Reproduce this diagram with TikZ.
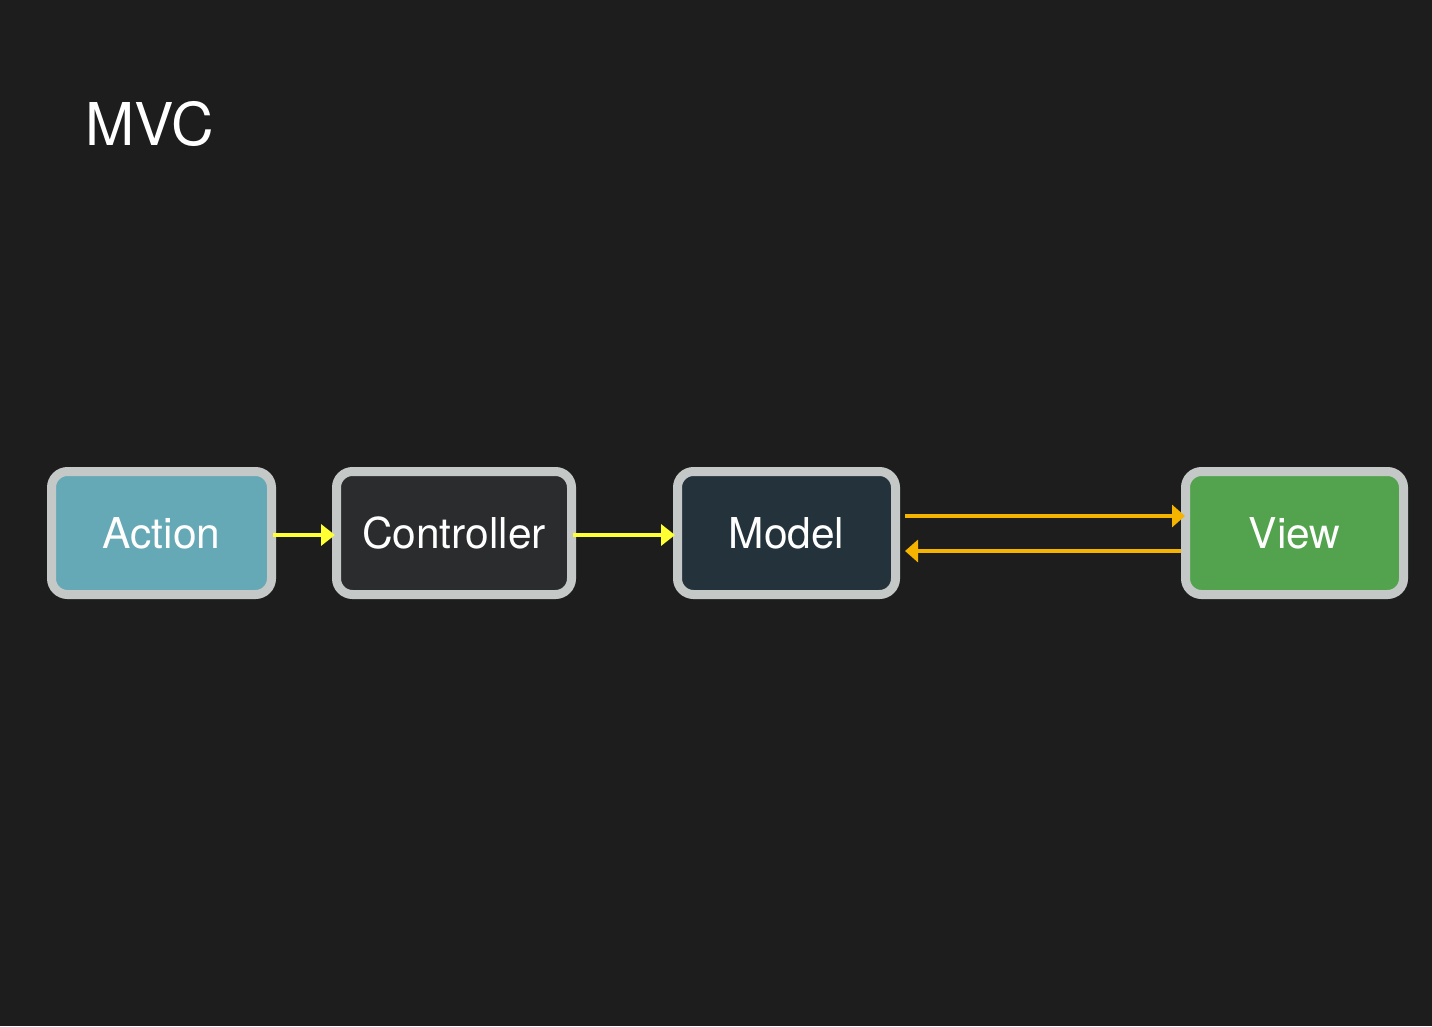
\documentclass[tikz,border=0pt]{standalone}
\usepackage{fontspec}
\setmainfont{TeX Gyre Heros}
\usetikzlibrary{arrows.meta}
\definecolor{bgdark}{HTML}{1D1D1D}
\definecolor{rim}{HTML}{C4C8C6}
\definecolor{actionfill}{HTML}{66A9B6}
\definecolor{controllerfill}{HTML}{2B2C2E}
\definecolor{modelfill}{HTML}{24333B}
\definecolor{viewfill}{HTML}{53A34E}
\definecolor{flowyellow}{HTML}{FFFF33}
\definecolor{floworange}{HTML}{F5B400}
\tikzset{
  box/.style={draw=rim, line width=9pt, rounded corners=16pt,
    minimum height=123pt, inner sep=0pt, text=white,
    font=\fontsize{42.5}{50}\selectfont},
  yflow/.style={draw=flowyellow, line width=4pt,
    -{Triangle[length=14pt,width=21pt]}},
  oflow/.style={draw=floworange, line width=4.5pt,
    -{Triangle[length=13pt,width=22pt]}},
}
\begin{document}
\begin{tikzpicture}[x=1pt,y=-1pt]
  \fill[bgdark] (0,0) rectangle (1432,1026);
  \useasboundingbox (0,0) rectangle (1432,1026);

  \node[anchor=base west, text=white, inner sep=0pt,
        font=\fontsize{59}{70}\selectfont] (title) at (85,145) {MVC};

  \node[box, fill=actionfill, minimum width=220pt] (action) at (161.5,533) {Action};
  \node[box, fill=controllerfill, minimum width=235pt] (controller) at (454,533) {Controller};
  \node[box, fill=modelfill, minimum width=218pt] (model) at (786.5,533) {Model};
  \node[box, fill=viewfill, minimum width=218pt] (view) at (1294.5,533) {View};

  \draw[yflow] ([xshift=-3pt,yshift=-2pt]action.east) -- ([xshift=3pt,yshift=-2pt]controller.west);
  \draw[yflow] ([xshift=-3pt,yshift=-2pt]controller.east) -- ([xshift=2pt,yshift=-2pt]model.west);
  \draw[oflow] ([xshift=5pt,yshift=17pt]model.east) -- ([xshift=4pt,yshift=17pt]view.west);
  \draw[oflow] ([yshift=-18pt]view.west) -- ([xshift=5pt,yshift=-18pt]model.east);
\end{tikzpicture}
\end{document}
